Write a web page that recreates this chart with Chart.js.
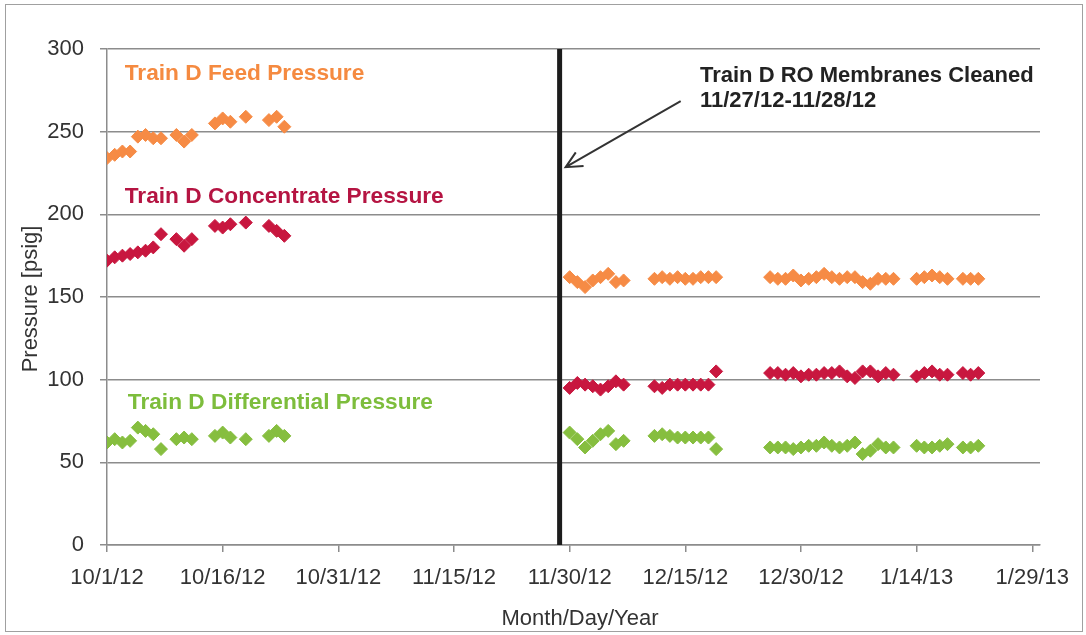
<!DOCTYPE html>
<html>
<head>
<meta charset="utf-8">
<title>Train D Pressure</title>
<script src="https://cdn.jsdelivr.net/npm/chart.js@4.4.0/dist/chart.umd.min.js"></script>
<style>
    html, body { margin: 0; padding: 0; background: #fff; }
    #wrap { position: relative; width: 1086px; height: 635px; }
    #frame { position: absolute; left: 5px; top: 4px; width: 1076px; height: 626px; border: 1px solid #a0a0a0; pointer-events: none; }
</style>
</head>
<body>
<div id="wrap">
    <canvas id="pressureChart" width="1086" height="635"></canvas>
    <div id="frame"></div>
</div>
<script>
// sample dates, M/D/YY
const dates = [
    '10/1/12', '10/2/12', '10/3/12', '10/4/12', '10/5/12', '10/6/12', '10/7/12', '10/8/12',
    '10/10/12', '10/11/12', '10/12/12',
    '10/15/12', '10/16/12', '10/17/12',
    '10/19/12',
    '10/22/12', '10/23/12', '10/24/12',
    '11/30/12', '12/1/12', '12/2/12', '12/3/12', '12/4/12', '12/5/12', '12/6/12', '12/7/12',
    '12/11/12', '12/12/12', '12/13/12', '12/14/12', '12/15/12', '12/16/12', '12/17/12', '12/18/12', '12/19/12',
    '12/26/12', '12/27/12', '12/28/12', '12/29/12', '12/30/12', '12/31/12', '1/1/13', '1/2/13', '1/3/13',
    '1/4/13', '1/5/13', '1/6/13', '1/7/13', '1/8/13', '1/9/13', '1/10/13', '1/11/13',
    '1/14/13', '1/15/13', '1/16/13', '1/17/13', '1/18/13',
    '1/20/13', '1/21/13', '1/22/13'
];

const feedPressure = [
    234, 236, 238, 238, 247, 248, 246, 246,
    248, 244, 248,
    255, 258, 256,
    259,
    257, 259, 253,
    162, 159, 156, 160, 162, 164, 159, 160,
    161, 162, 161, 162, 161, 161, 162, 162, 162,
    162, 161, 161, 163, 160, 161, 162, 164, 162,
    161, 162, 162, 159, 158, 161, 161, 161,
    161, 162, 163, 162, 161,
    161, 161, 161
];

const concentratePressure = [
    172, 174, 175, 176, 177, 178, 180, 188,
    185, 181, 185,
    193, 192, 194,
    195,
    193, 190, 187,
    95, 98, 97, 96, 94, 96, 99, 97,
    96, 95, 97, 97, 97, 97, 97, 97, 105,
    104, 104, 103, 104, 102, 103, 103, 104, 104,
    105, 102, 101, 105, 105, 102, 104, 103,
    102, 104, 105, 103, 103,
    104, 103, 104
];

const differentialPressure = [
    62, 64, 62, 63, 71, 69, 67, 58,
    64, 65, 64,
    66, 68, 65,
    64,
    66, 69, 66,
    68, 64, 59, 63, 67, 69, 61, 63,
    66, 67, 66, 65, 65, 65, 65, 65, 58,
    59, 59, 59, 58, 59, 60, 60, 62, 60,
    59, 60, 62, 55, 57, 61, 59, 59,
    60, 59, 59, 60, 61,
    59, 59, 60
];

const tickLabels = ['10/1/12', '10/16/12', '10/31/12', '11/15/12', '11/30/12', '12/15/12', '12/30/12', '1/14/13', '1/29/13'];

const seriesNames = ['Train D Feed Pressure', 'Train D Concentrate Pressure', 'Train D Differential Pressure'];
const noteLines = ['Train D RO Membranes Cleaned', '11/27/12-11/28/12'];
const cleaningDay = 58.7; // days after 10/1/12, black line

// days since 10/1/12
function dayOf(str) {
    const p = str.split('/').map(Number);
    return (Date.UTC(2000 + p[2], p[0] - 1, p[1]) - Date.UTC(2012, 9, 1)) / 86400000;
}

function points(values) {
    return values.map(function(v, i) { return { x: dayOf(dates[i]), y: v }; });
}

const colors = ['#F68B45', '#C8173F', '#86BE3F'];
const labelColors = ['#F58A40', '#B51442', '#7DBD3C'];
const gridGray = '#8c8c8c';
const font = 'Liberation Sans, Arial, sans-serif';

const notesPlugin = {
    id: 'notes',
    afterDatasetsDraw: function(chart) {
        const ctx = chart.ctx;
        const x = chart.scales.x;
        const y = chart.scales.y;

        // cleaning line
        const lx = x.getPixelForValue(cleaningDay);
        ctx.save();
        ctx.strokeStyle = '#1c1c1c';
        ctx.lineWidth = 5;
        ctx.beginPath();
        ctx.moveTo(lx, y.getPixelForValue(300));
        ctx.lineTo(lx, y.getPixelForValue(0));
        ctx.stroke();

        // arrow pointing at the line
        const sx = x.getPixelForValue(74.4), sy = y.getPixelForValue(268.5);
        const tx = lx + 6, ty = y.getPixelForValue(228.5);
        const ang = Math.atan2(ty - sy, tx - sx);
        ctx.strokeStyle = '#333';
        ctx.lineWidth = 2;
        ctx.beginPath();
        ctx.moveTo(sx, sy);
        ctx.lineTo(tx, ty);
        ctx.moveTo(tx - 18 * Math.cos(ang - 0.45), ty - 18 * Math.sin(ang - 0.45));
        ctx.lineTo(tx, ty);
        ctx.lineTo(tx - 18 * Math.cos(ang + 0.45), ty - 18 * Math.sin(ang + 0.45));
        ctx.stroke();

        // annotation text
        ctx.fillStyle = '#222';
        ctx.font = 'bold 22px ' + font;
        ctx.textAlign = 'left';
        ctx.textBaseline = 'alphabetic';
        const nx = x.getPixelForValue(76.9);
        ctx.fillText(noteLines[0], nx, y.getPixelForValue(280));
        ctx.fillText(noteLines[1], nx, y.getPixelForValue(265));

        // series labels
        ctx.font = 'bold 22.7px ' + font;
        const labelPos = [[2.3, 281], [2.3, 207], [2.7, 82.5]];
        seriesNames.forEach(function(name, i) {
            ctx.fillStyle = labelColors[i];
            ctx.fillText(name, x.getPixelForValue(labelPos[i][0]), y.getPixelForValue(labelPos[i][1]));
        });

        // axis titles
        ctx.fillStyle = '#333';
        ctx.font = '22px ' + font;
        ctx.textAlign = 'center';
        ctx.textBaseline = 'middle';
        ctx.fillText('Month/Day/Year', 580, 619);
        ctx.translate(31, 299);
        ctx.rotate(-Math.PI / 2);
        ctx.fillText('Pressure [psig]', 0, 0);
        ctx.restore();
    }
};

document.addEventListener('DOMContentLoaded', function() {
    const ctx = document.getElementById('pressureChart').getContext('2d');
    const sets = [feedPressure, concentratePressure, differentialPressure].map(function(vals, i) {
        return {
            label: seriesNames[i],
            data: points(vals),
            pointStyle: 'rectRot',
            pointRadius: 6.5,
            pointBackgroundColor: colors[i],
            pointBorderColor: colors[i],
            pointBorderWidth: 1,
            showLine: false
        };
    });

    new Chart(ctx, {
        type: 'scatter',
        data: { datasets: sets },
        options: {
            responsive: false,
            animation: false,
            devicePixelRatio: 1,
            layout: { padding: { top: 49, right: 46, left: 0, bottom: 0 } },
            plugins: {
                legend: { display: false },
                tooltip: { enabled: false }
            },
            scales: {
                x: {
                    type: 'linear',
                    min: 0,
                    max: 121,
                    afterFit: function(scale) { scale.height = 90; },
                    afterBuildTicks: function(scale) {
                        scale.ticks = tickLabels.map(function(t, i) { return { value: i * 15 }; });
                    },
                    ticks: {
                        autoSkip: false,
                        maxRotation: 0,
                        padding: 13,
                        color: '#333',
                        font: { family: font, size: 22 },
                        callback: function(value, index) { return tickLabels[index]; }
                    },
                    grid: { drawOnChartArea: false, tickLength: 7, color: gridGray, lineWidth: 1.5 },
                    border: { color: gridGray, width: 1.5 }
                },
                y: {
                    min: 0,
                    max: 300,
                    afterFit: function(scale) { scale.width = 107; },
                    ticks: {
                        stepSize: 50,
                        padding: 16,
                        color: '#333',
                        font: { family: font, size: 22 }
                    },
                    grid: { tickLength: 7, color: gridGray, lineWidth: 1.5 },
                    border: { color: gridGray, width: 1.5 }
                }
            }
        },
        plugins: [notesPlugin]
    });
});
</script>
</body>
</html>
